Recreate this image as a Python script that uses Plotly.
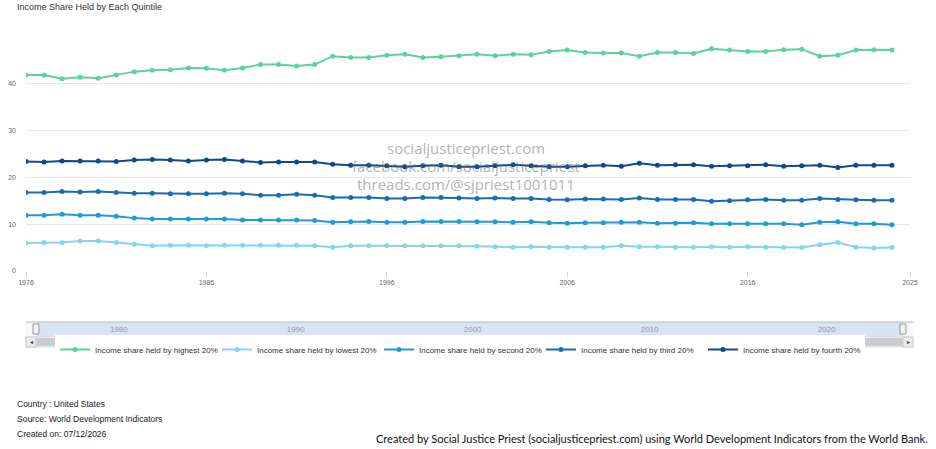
# Income share held by each quintile, United States (WDI), drawn with plotly
import plotly.graph_objects as go

years = list(range(1976, 2025))

highest = [41.9, 41.9, 41.1, 41.4, 41.2, 41.9, 42.6, 42.9, 43.0, 43.4, 43.3, 42.9, 43.4, 44.1, 44.1, 43.8, 44.1,
           45.9, 45.6, 45.6, 46.1, 46.3, 45.6, 45.8, 46.0, 46.3, 46.0, 46.3, 46.2, 46.9, 47.2, 46.7, 46.6, 46.6,
           45.9, 46.7, 46.7, 46.5, 47.5, 47.2, 46.9, 46.9, 47.3, 47.4, 45.9, 46.1, 47.2, 47.3, 47.2]
lowest = [6.0, 6.1, 6.1, 6.4, 6.4, 6.1, 5.7, 5.4, 5.5, 5.5, 5.4, 5.5, 5.5, 5.5, 5.5, 5.5, 5.4,
          5.1, 5.4, 5.4, 5.4, 5.4, 5.4, 5.4, 5.4, 5.3, 5.2, 5.1, 5.2, 5.1, 5.1, 5.1, 5.1, 5.4,
          5.2, 5.2, 5.1, 5.1, 5.2, 5.1, 5.2, 5.1, 5.0, 5.0, 5.6, 6.1, 5.1, 4.9, 5.0]
second = [11.9, 11.9, 12.1, 11.9, 11.9, 11.7, 11.3, 11.1, 11.1, 11.1, 11.1, 11.1, 10.9, 10.9, 10.9, 10.9, 10.8,
          10.4, 10.5, 10.6, 10.4, 10.4, 10.6, 10.6, 10.6, 10.5, 10.5, 10.4, 10.5, 10.3, 10.2, 10.3, 10.3, 10.4,
          10.4, 10.2, 10.2, 10.3, 10.1, 10.1, 10.1, 10.1, 10.1, 9.9, 10.4, 10.5, 10.1, 10.1, 9.9]
third = [16.8, 16.8, 17.0, 16.9, 17.0, 16.8, 16.6, 16.6, 16.5, 16.5, 16.5, 16.6, 16.5, 16.2, 16.2, 16.4, 16.2,
         15.7, 15.7, 15.7, 15.5, 15.5, 15.7, 15.7, 15.6, 15.5, 15.6, 15.5, 15.5, 15.3, 15.2, 15.4, 15.4, 15.3,
         15.6, 15.3, 15.3, 15.3, 14.9, 15.0, 15.2, 15.3, 15.1, 15.1, 15.5, 15.3, 15.2, 15.1, 15.1]
fourth = [23.4, 23.3, 23.5, 23.5, 23.5, 23.4, 23.7, 23.8, 23.7, 23.5, 23.7, 23.8, 23.5, 23.2, 23.3, 23.3, 23.3,
          22.8, 22.6, 22.6, 22.5, 22.3, 22.5, 22.6, 22.3, 22.3, 22.5, 22.7, 22.5, 22.3, 22.3, 22.5, 22.6, 22.4,
          23.0, 22.6, 22.7, 22.7, 22.4, 22.5, 22.5, 22.7, 22.4, 22.5, 22.6, 22.1, 22.6, 22.6, 22.6]

series_names = ["Income share held by highest 20%", "Income share held by lowest 20%",
                "Income share held by second 20%", "Income share held by third 20%",
                "Income share held by fourth 20%"]
series_values = [highest, lowest, second, third, fourth]
colors = ["#5cd39e", "#86d4f0", "#1f9bd7", "#1a6db4", "#0d4a8e"]

main_ticks = [1976, 1986, 1996, 2006, 2016, 2025]
nav_ticks = [1980, 1990, 2000, 2010, 2020]
y_ticks = [0, 10, 20, 30, 40, 50]
y_labels = ["0", "10", "20", "30", "40", ""]

watermark = ["socialjusticepriest.com", "facebook.com/socialjusticepriest", "threads.com/@sjpriest1001011"]
footer = ["Country : United States", "Source: World Development Indicators", "Created on: 07/12/2026"]
credit = ("Created by Social Justice Priest (socialjusticepriest.com) using World Development "
          "Indicators from the World Bank.")

W, H = 936, 449
ML, MR, MT, MB = 26, 23, 37, 102
PW, PH = W - ML - MR, H - MT - MB


def px(x):
    return (x - ML) / PW


def py(y):
    return (H - MB - y) / PH


fig = go.Figure()
for name, vals, col in zip(series_names, series_values, colors):
    fig.add_trace(go.Scatter(x=years, y=vals, name=name, mode="lines+markers",
                             line=dict(color=col, width=2), marker=dict(color=col, size=5)))

# empty trace just to build the navigator axis
fig.add_trace(go.Scatter(x=[1976, 2025], y=[0, 0], xaxis="x2", yaxis="y2", mode="none",
                         showlegend=False, hoverinfo="skip"))

shapes = []
# navigator
shapes.append(dict(type="rect", xref="paper", yref="paper", x0=px(26), x1=px(913), y0=py(337), y1=py(322),
                   fillcolor="#f7f7f7", line=dict(width=0), layer="below"))
shapes.append(dict(type="rect", xref="paper", yref="paper", x0=px(36), x1=px(903), y0=py(337), y1=py(322),
                   fillcolor="#d8e4f5", line=dict(width=0), layer="below"))
shapes.append(dict(type="line", xref="paper", yref="paper", x0=px(26), x1=px(913), y0=py(322), y1=py(322),
                   line=dict(color="#bbbbbb", width=1)))
for hx in (36, 903):
    shapes.append(dict(type="rect", xref="paper", yref="paper", x0=px(hx - 3), x1=px(hx + 3),
                       y0=py(334), y1=py(324), fillcolor="#f2f2f2", line=dict(color="#999999", width=1)))
# scrollbar
shapes.append(dict(type="rect", xref="paper", yref="paper", x0=px(26), x1=px(913), y0=py(347), y1=py(337),
                   fillcolor="#f2f2f2", line=dict(color="#dddddd", width=1)))
shapes.append(dict(type="rect", xref="paper", yref="paper", x0=px(36), x1=px(903), y0=py(346), y1=py(338),
                   fillcolor="#c9cdd2", line=dict(width=0)))
for bx in (26, 903):
    shapes.append(dict(type="rect", xref="paper", yref="paper", x0=px(bx), x1=px(bx + 10),
                       y0=py(347), y1=py(337), fillcolor="#ebebeb", line=dict(color="#cccccc", width=1)))

annotations = []
annotations.append(dict(text="Income Share Held by Each Quintile", xref="paper", yref="paper", x=px(15), y=py(7),
                        xanchor="left", yanchor="middle", showarrow=False,
                        font=dict(family="Liberation Sans, Arial", size=9, color="#333333")))
for t, yy in zip(watermark, [148, 166, 184]):
    annotations.append(dict(text=t, xref="paper", yref="paper", x=px(466), y=py(yy), xanchor="center",
                            yanchor="middle", showarrow=False,
                            font=dict(family="Open Sans", size=15, color="rgba(110,110,110,0.55)")))
for t, yy in zip(footer, [404, 419, 434]):
    annotations.append(dict(text=t, xref="paper", yref="paper", x=px(15), y=py(yy), xanchor="left",
                            yanchor="middle", showarrow=False,
                            font=dict(family="Liberation Sans, Arial", size=8.5, color="#222222")))
annotations.append(dict(text=credit, xref="paper", yref="paper", x=px(930), y=py(438), xanchor="right",
                        yanchor="middle", showarrow=False, font=dict(family="Lato", size=11, color="#111111")))
for sym, bx in (("◂", 31), ("▸", 908)):
    annotations.append(dict(text=sym, xref="paper", yref="paper", x=px(bx), y=py(342), xanchor="center",
                            yanchor="middle", showarrow=False, font=dict(size=6, color="#333333")))

fig.update_layout(
    width=W, height=H,
    margin=dict(l=ML, r=MR, t=MT, b=MB, autoexpand=False),
    paper_bgcolor="white", plot_bgcolor="white",
    font=dict(family="Liberation Sans, Arial", color="#666666"),
    showlegend=True,
    legend=dict(orientation="h", x=px(460), xanchor="center", y=py(335), yanchor="top",
                bgcolor="white", font=dict(size=8, color="#333333"), itemwidth=30,
                entrywidth=117, entrywidthmode="pixels"),
    xaxis=dict(domain=[0, px(910)], range=[1976, 2025], tickvals=main_ticks, ticks="outside", ticklen=5,
               tickcolor="#ccd6eb", tickfont=dict(size=7, color="#666666"), showgrid=False, zeroline=False,
               showline=False, anchor="y", automargin=False),
    yaxis=dict(domain=[py(271), 1], range=[0, 50], tickvals=y_ticks, ticktext=y_labels, gridcolor="#e6e6e6",
               zeroline=False, tickfont=dict(size=7, color="#666666"), ticklabelstandoff=9, anchor="x",
               automargin=False),
    xaxis2=dict(domain=[px(36), px(903)], range=[1976, 2025], tickvals=nav_ticks, ticklabelposition="inside",
                ticklabelshift=12, ticks="", showgrid=False, zeroline=False, showline=False,
                tickfont=dict(size=8, color="#999999"), anchor="y2", automargin=False),
    yaxis2=dict(domain=[py(337), py(322)], range=[-1, 1], visible=False, anchor="x2", automargin=False),
    shapes=shapes,
    annotations=annotations,
)

# page body has a default 8px margin; drop it so the chart sits at the top-left corner
fig.write_html("out.html", config={"displayModeBar": False},
               post_script="document.body.style.margin = '0';")
